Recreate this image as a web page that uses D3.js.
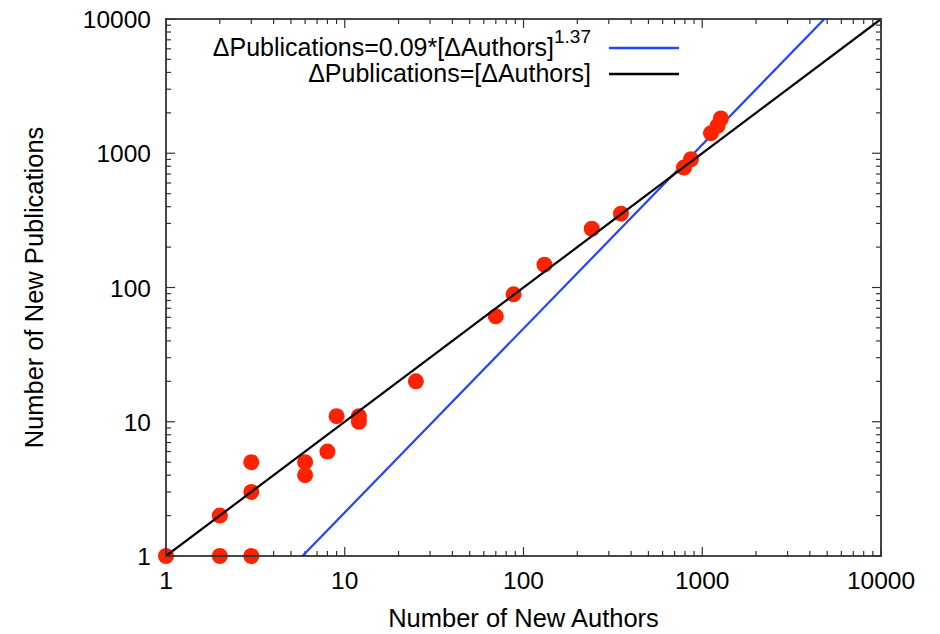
<!DOCTYPE html>
<html>
<head>
<meta charset="utf-8">
<script src="https://cdn.jsdelivr.net/npm/d3@7/dist/d3.min.js"></script>
<style>
  html, body { margin: 0; padding: 0; background: #fff; }
  svg { display: block; font-family: "Liberation Sans", Arial, Helvetica, sans-serif; }
</style>
</head>
<body>
<svg id="chart" width="940" height="634"></svg>
<script>
// Observed growth: new authors vs new publications
const newAuthors = [1, 2, 3, 2, 3, 3, 6, 6, 8, 9, 12, 12, 25, 70, 88, 131, 241, 351, 790, 865, 1119, 1218, 1271];
const newPublications = [1, 1, 1, 2, 3, 5, 5, 4, 6, 11, 11, 10, 20, 61, 89, 148, 274, 355, 782, 902, 1410, 1600, 1815];

// Fitted power law and identity reference
const fitCoef = 0.09;
const fitExp = 1.37;

const majorTicks = [1, 10, 100, 1000, 10000];
const tickLabels = ["1", "10", "100", "1000", "10000"];

const xTitle = "Number of New Authors";
const yTitle = "Number of New Publications";

const svg = d3.select("#chart");
const plotLeft = 166, plotRight = 881, plotTop = 19, plotBottom = 556;

const x = d3.scaleLog().domain([1, 10000]).range([plotLeft, plotRight]);
const y = d3.scaleLog().domain([1, 10000]).range([plotBottom, plotTop]);

const axisColor = "#333";
const minorTicks = [];
for (let d = 1; d < 10000; d *= 10) for (let k = 2; k <= 9; k++) minorTicks.push(d * k);

// Tick marks on all four sides, pointing inward
const tickG = svg.append("g").attr("stroke", axisColor).attr("stroke-width", 1.2);
function drawTicks(vals, len) {
  vals.forEach(v => {
    tickG.append("line").attr("x1", x(v)).attr("x2", x(v)).attr("y1", plotBottom).attr("y2", plotBottom - len);
    tickG.append("line").attr("x1", x(v)).attr("x2", x(v)).attr("y1", plotTop).attr("y2", plotTop + len);
    tickG.append("line").attr("y1", y(v)).attr("y2", y(v)).attr("x1", plotLeft).attr("x2", plotLeft + len);
    tickG.append("line").attr("y1", y(v)).attr("y2", y(v)).attr("x1", plotRight).attr("x2", plotRight - len);
  });
}
drawTicks(majorTicks, 9);
drawTicks(minorTicks, 5);

// Tick labels
const labelG = svg.append("g").attr("font-size", 24.5).attr("fill", "#000");
majorTicks.forEach((v, i) => {
  labelG.append("text").attr("x", x(v)).attr("y", plotBottom + 33)
    .attr("text-anchor", "middle").text(tickLabels[i]);
  labelG.append("text").attr("x", plotLeft - 15).attr("y", y(v) + 9)
    .attr("text-anchor", "end").text(tickLabels[i]);
});

// Axis titles
svg.append("text").attr("x", (plotLeft + plotRight) / 2).attr("y", 627)
  .attr("text-anchor", "middle").attr("font-size", 25.5).text(xTitle);
svg.append("text").attr("transform", `translate(43,${(plotTop + plotBottom) / 2}) rotate(-90)`)
  .attr("text-anchor", "middle").attr("font-size", 25.5).text(yTitle);

// Clip for lines
svg.append("clipPath").attr("id", "plotClip")
  .append("rect").attr("x", plotLeft).attr("y", plotTop)
  .attr("width", plotRight - plotLeft).attr("height", plotBottom - plotTop);

const line = d3.line().x(d => x(d[0])).y(d => y(d[1]));

// Power-law fit line
const fitStart = Math.pow(1 / fitCoef, 1 / fitExp);
const fitEnd = Math.pow(10000 / fitCoef, 1 / fitExp);
svg.append("path").attr("clip-path", "url(#plotClip)")
  .attr("d", line([fitStart, fitEnd].map(a => [a, fitCoef * Math.pow(a, fitExp)])))
  .attr("fill", "none").attr("stroke", "#2244ff").attr("stroke-width", 2.2);

// Points
svg.append("g").selectAll("circle")
  .data(newAuthors.map((a, i) => [a, newPublications[i]]))
  .join("circle")
  .attr("cx", d => x(d[0])).attr("cy", d => y(d[1])).attr("r", 8)
  .attr("fill", "#ff2200");

// Identity line
svg.append("path").attr("clip-path", "url(#plotClip)")
  .attr("d", line([[1, 1], [10000, 10000]]))
  .attr("fill", "none").attr("stroke", "#000").attr("stroke-width", 2.2);

// Frame
svg.append("rect").attr("x", plotLeft).attr("y", plotTop)
  .attr("width", plotRight - plotLeft).attr("height", plotBottom - plotTop)
  .attr("fill", "none").attr("stroke", axisColor).attr("stroke-width", 1.8);

// Legend
const legend = svg.append("g").attr("font-size", 25);
const t1 = legend.append("text").attr("x", 591).attr("y", 56).attr("text-anchor", "end");
t1.append("tspan").text("ΔPublications=0.09*[ΔAuthors]");
t1.append("tspan").attr("dy", -13).attr("font-size", 19).text("1.37");
legend.append("text").attr("x", 591).attr("y", 82).attr("text-anchor", "end")
  .text("ΔPublications=[ΔAuthors]");
legend.append("line").attr("x1", 609).attr("x2", 679).attr("y1", 48).attr("y2", 48)
  .attr("stroke", "#2244ff").attr("stroke-width", 2.4);
legend.append("line").attr("x1", 609).attr("x2", 679).attr("y1", 74).attr("y2", 74)
  .attr("stroke", "#000").attr("stroke-width", 2.4);
</script>
</body>
</html>
